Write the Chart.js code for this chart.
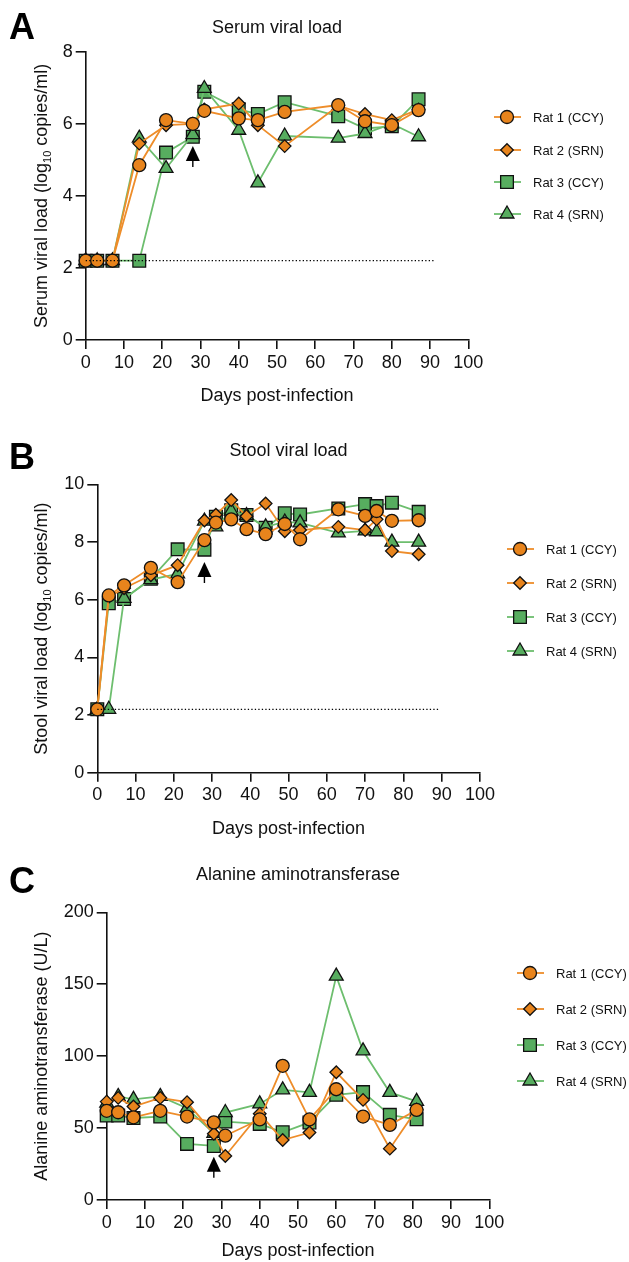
<!DOCTYPE html>
<html>
<head>
<meta charset="utf-8">
<script src="https://cdn.jsdelivr.net/npm/chart.js@4.4.1/dist/chart.umd.min.js"></script>
<style>
  body { margin: 0; background: #fff; width: 629px; height: 1262px; position: relative; overflow: hidden; }
  .panel { position: absolute; left: 0; width: 629px; }
  canvas { display: block; }
</style>
</head>
<body>
<div class="panel" style="top:0"><canvas id="chartA" width="629" height="420"></canvas></div>
<div class="panel" style="top:420px"><canvas id="chartB" width="629" height="425"></canvas></div>
<div class="panel" style="top:845px"><canvas id="chartC" width="629" height="417"></canvas></div>
<script>
// @ts-check

const ratLabels = ['Rat 1 (CCY)', 'Rat 2 (SRN)', 'Rat 3 (CCY)', 'Rat 4 (SRN)'];
const xTicks = [0, 10, 20, 30, 40, 50, 60, 70, 80, 90, 100];

// A - serum viral load (log10 copies/ml)
const serumDays = [0, 3, 7, 14, 21, 28, 31, 40, 45, 52, 66, 73, 80, 87];
const serumRat1 = [2.2, 2.2, 2.2, 4.85, 6.1, 6.0, 6.36, 6.15, 6.1, 6.33, 6.52, 6.07, 5.96, 6.38];
const serumRat2 = [2.2, 2.2, 2.2, 5.45, 5.96, 6.0, 6.4, 6.56, 5.96, 5.38, 6.5, 6.27, 6.1, 6.4];
const serumRat3 = [2.2, 2.2, 2.2, 2.2, 5.2, 5.64, 6.89, 6.4, 6.27, 6.6, 6.21, 5.87, 5.93, 6.68];
const serumRat4 = [2.2, 2.2, 2.2, 5.6, 4.76, 5.7, 6.98, 5.82, 4.36, 5.66, 5.6, 5.73, 6.0, 5.64];
const serumYTicks = [0, 2, 4, 6, 8];
const serumLimit = [[0, 2.2], [91, 2.2]];
const serumArrow = [28, 5.38];

// B - stool viral load (log10 copies/ml)
const stoolDays = [0, 3, 7, 14, 21, 28, 31, 35, 39, 44, 49, 53, 63, 70, 73, 77, 84];
const stoolRat1 = [2.2, 6.15, 6.5, 7.11, 6.61, 8.07, 8.68, 8.79, 8.45, 8.28, 8.63, 8.1, 9.14, 8.91, 9.08, 8.74, 8.76];
const stoolRat2 = [2.2, 6.1, 6.4, 6.85, 7.2, 8.75, 8.95, 9.46, 8.9, 9.34, 8.38, 8.42, 8.53, 8.42, 8.79, 7.69, 7.58];
const stoolRat3 = [2.2, 5.88, 6.03, 6.73, 7.75, 7.74, 8.88, 9.11, 8.94, 8.5, 9.0, 8.96, 9.17, 9.32, 9.25, 9.37, 9.05];
const stoolRat4 = [2.2, 2.2, 6.05, 6.7, 6.9, 8.73, 8.53, 9.08, 8.92, 8.53, 8.7, 8.67, 8.32, 8.39, 8.36, 8.0, 8.0];
const stoolYTicks = [0, 2, 4, 6, 8, 10];
const stoolLimit = [[0, 2.2], [89.5, 2.2]];
const stoolArrow = [28, 7.31];

// C - alanine aminotransferase (U/L)
const altDays = [0, 3, 7, 14, 21, 28, 31, 40, 46, 53, 60, 67, 74, 81];
const altRat1 = [62, 61, 57.5, 62, 58, 54, 44.7, 56, 93.3, 56, 77, 58, 52.2, 62.6];
const altRat2 = [68.4, 71, 65, 71, 68, 46, 30.6, 60, 41.7, 46.9, 88.8, 69.6, 35.7, 63];
const altRat3 = [58.7, 58.7, 57, 58, 39, 37.6, 54.5, 52.9, 47.1, 53.9, 73.1, 75, 59.2, 56.1];
const altRat4 = [67.3, 72, 70, 72, 63.8, 46.4, 60.8, 66.8, 76.6, 74.8, 155.6, 103.7, 74.8, 68.6];
const altYTicks = [0, 50, 100, 150, 200];
const altArrow = [28, 30];

const FONT = "'Liberation Sans', Arial, Helvetica, sans-serif";
const ORANGE = '#E8841C';
const ORANGE_LINE = '#EE8D2A';
const GREEN = '#57AD5F';
const GREEN_LINE = '#6DBE6E';
const AXIS = '#111';

const ratStyles = [
    { fill: ORANGE, line: ORANGE_LINE, pointStyle: 'circle', radius: 6.5, order: 1 },
    { fill: ORANGE, line: ORANGE_LINE, pointStyle: 'rectRot', radius: 6.3, order: 2 },
    { fill: GREEN, line: GREEN_LINE, pointStyle: 'rect', radius: 9, order: 4 },
    { fill: GREEN, line: GREEN_LINE, pointStyle: 'triangle', radius: 8, order: 3 },
];

/**
 * Letter, title, axis titles, legend and arrow drawn around the plot
 */
const decorPlugin = {
    id: 'decor',
    afterDatasetsDraw(chart, args, o) {
        const ctx = chart.ctx;
        const ax = chart.scales.x.getPixelForValue(o.arrow[0]);
        const ay = chart.scales.y.getPixelForValue(o.arrow[1]);
        ctx.save();
        ctx.fillStyle = '#000';
        ctx.strokeStyle = '#000';
        ctx.beginPath();
        ctx.moveTo(ax, ay);
        ctx.lineTo(ax + 7, ay + 15);
        ctx.lineTo(ax - 7, ay + 15);
        ctx.closePath();
        ctx.fill();
        ctx.lineWidth = 1.4;
        ctx.beginPath();
        ctx.moveTo(ax, ay + 12);
        ctx.lineTo(ax, ay + 21);
        ctx.stroke();
        ctx.restore();
    },
    afterDraw(chart, args, o) {
        const ctx = chart.ctx;
        const area = chart.chartArea;
        ctx.save();
        ctx.fillStyle = '#000';

        ctx.font = `bold 36px ${FONT}`;
        ctx.textAlign = 'left';
        ctx.textBaseline = 'alphabetic';
        ctx.fillText(o.letter, 9, o.letterY);

        ctx.fillStyle = '#111';
        ctx.font = `18px ${FONT}`;
        ctx.textAlign = 'center';
        ctx.textBaseline = 'middle';
        ctx.fillText(o.title, (area.left + area.right) / 2, o.titleY);
        ctx.fillText('Days post-infection', (area.left + area.right) / 2, o.xTitleY);

        // rotated y title, middle part as subscript
        ctx.save();
        ctx.translate(42, (area.top + area.bottom) / 2);
        ctx.rotate(-Math.PI / 2);
        const big = `18px ${FONT}`, small = `11px ${FONT}`;
        const widths = o.yTitle.map((t, i) => {
            ctx.font = i === 1 ? small : big;
            return ctx.measureText(t).width;
        });
        let tx = -widths.reduce((a, b) => a + b, 0) / 2;
        ctx.textAlign = 'left';
        o.yTitle.forEach((t, i) => {
            ctx.font = i === 1 ? small : big;
            ctx.fillText(t, tx, i === 1 ? 6 : 0);
            tx += widths[i];
        });
        ctx.restore();

        // legend: line + marker + label
        ctx.textAlign = 'left';
        ctx.textBaseline = 'middle';
        o.legendY.forEach((ly, i) => {
            const ds = chart.data.datasets[i];
            const lx = o.legendX;
            ctx.strokeStyle = ds.borderColor;
            ctx.lineWidth = ds.borderWidth;
            ctx.beginPath();
            ctx.moveTo(lx - 13, ly);
            ctx.lineTo(lx + 14, ly);
            ctx.stroke();
            ctx.fillStyle = ds.pointBackgroundColor;
            ctx.strokeStyle = ds.pointBorderColor;
            ctx.lineWidth = ds.pointBorderWidth;
            Chart.helpers.drawPoint(ctx, {
                pointStyle: ds.pointStyle, radius: ds.pointRadius, rotation: 0, borderWidth: ds.pointBorderWidth
            }, lx, ly);
            ctx.fillStyle = '#111';
            ctx.font = `13px ${FONT}`;
            ctx.fillText(ds.label, lx + 26, ly + 1);
        });
        ctx.restore();
    }
};

/**
 * Build one panel
 * @param {string} id canvas id
 * @param {Object} p panel settings
 */
function makePanel(id, p) {
    const datasets = p.series.map((values, i) => {
        const s = ratStyles[i];
        return {
            label: ratLabels[i],
            data: values.map((v, k) => ({ x: p.days[k], y: v })),
            borderColor: s.line,
            borderWidth: 1.8,
            pointStyle: s.pointStyle,
            pointRadius: s.radius,
            pointHoverRadius: s.radius,
            pointBackgroundColor: s.fill,
            pointBorderColor: '#111',
            pointBorderWidth: 1.3,
            order: s.order,
            clip: false,
        };
    });
    if (p.limit) {
        // dotted detection limit
        datasets.push({
            label: 'limit',
            data: p.limit.map(([x, y]) => ({ x, y })),
            borderColor: '#000',
            borderWidth: 1.2,
            borderDash: [1.3, 2.2],
            pointRadius: 0,
            order: 0,
            clip: false,
        });
    }

    const canvas = /** @type {HTMLCanvasElement} */ (document.getElementById(id));
    new Chart(canvas, {
        type: 'line',
        data: { datasets },
        plugins: [decorPlugin],
        options: {
            responsive: false,
            animation: false,
            events: [],
            layout: { padding: { left: 0, top: p.area.top, right: canvas.width - p.area.right, bottom: 0 } },
            scales: {
                x: {
                    type: 'linear',
                    min: 0,
                    max: 100,
                    afterBuildTicks: (scale) => { scale.ticks = xTicks.map((v) => ({ value: v })); },
                    afterFit: (scale) => { scale.height = canvas.height - p.area.bottom; },
                    border: { color: AXIS, width: 1.6 },
                    grid: { drawOnChartArea: false, drawTicks: true, tickLength: 9, color: AXIS, lineWidth: 1.6 },
                    ticks: { color: '#111', font: { family: FONT, size: 18 }, padding: 3, maxRotation: 0, autoSkip: false },
                },
                y: {
                    type: 'linear',
                    min: p.yTicks[0],
                    max: p.yTicks[p.yTicks.length - 1],
                    afterBuildTicks: (scale) => { scale.ticks = p.yTicks.map((v) => ({ value: v })); },
                    afterFit: (scale) => { scale.width = p.area.left; },
                    border: { color: AXIS, width: 1.6 },
                    grid: { drawOnChartArea: false, drawTicks: true, tickLength: 10, color: AXIS, lineWidth: 1.6 },
                    ticks: { color: '#111', font: { family: FONT, size: 18 }, padding: 3, autoSkip: false },
                },
            },
            plugins: {
                legend: { display: false },
                tooltip: { enabled: false },
                decor: p.decor,
            },
        },
    });
}

makePanel('chartA', {
    days: serumDays,
    series: [serumRat1, serumRat2, serumRat3, serumRat4],
    yTicks: serumYTicks,
    limit: serumLimit,
    area: { left: 85.7, right: 468.3, top: 51.7, bottom: 340 },
    decor: {
        letter: 'A', letterY: 39, title: 'Serum viral load', titleY: 28, xTitleY: 396,
        yTitle: ['Serum viral load (log', '10', ' copies/ml)'],
        legendX: 507, legendY: [117, 150, 182, 214], arrow: serumArrow,
    },
});

makePanel('chartB', {
    days: stoolDays,
    series: [stoolRat1, stoolRat2, stoolRat3, stoolRat4],
    yTicks: stoolYTicks,
    limit: stoolLimit,
    area: { left: 97.3, right: 479.9, top: 64.5, bottom: 352.7 },
    decor: {
        letter: 'B', letterY: 49, title: 'Stool viral load', titleY: 31, xTitleY: 409,
        yTitle: ['Stool viral load (log', '10', ' copies/ml)'],
        legendX: 520, legendY: [129, 163, 197, 231], arrow: stoolArrow,
    },
});

makePanel('chartC', {
    days: altDays,
    series: [altRat1, altRat2, altRat3, altRat4],
    yTicks: altYTicks,
    limit: null,
    area: { left: 106.7, right: 489.3, top: 67.3, bottom: 355 },
    decor: {
        letter: 'C', letterY: 48, title: 'Alanine aminotransferase', titleY: 30, xTitleY: 406,
        yTitle: ['Alanine aminotransferase (U/L)'],
        legendX: 530, legendY: [128, 164, 200, 236], arrow: altArrow,
    },
});
</script>
</body>
</html>
